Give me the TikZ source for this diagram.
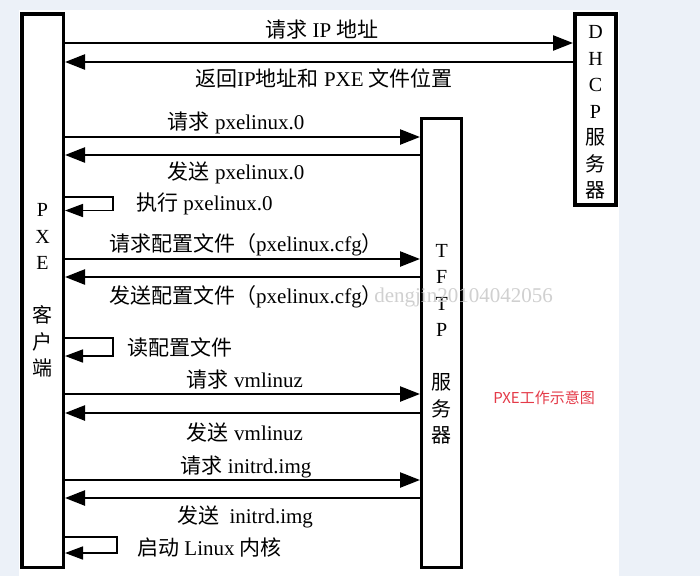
\documentclass[tikz,border=0pt]{standalone}
\usepackage{fontspec}
\setmainfont{Liberation Serif}
\newfontfamily\cjk{Noto Sans CJK SC}
\newcommand\zh[1]{{\cjk #1}}
\usetikzlibrary{arrows.meta}
\definecolor{bgc}{RGB}{236,241,248}
\definecolor{redc}{RGB}{228,58,72}
\definecolor{wmc}{RGB}{208,208,208}
\tikzset{
  box/.style={draw=black, fill=none, inner sep=0pt},
  vtext/.style={inner sep=0pt, align=center, font=\fontsize{20}{26.5}\selectfont},
  msg/.style={line width=2.4pt, -{Triangle[length=20pt,width=15pt]}},
  selfloop/.style={line width=1.6pt, -{Triangle[length=18pt,width=13pt]}},
  lbl/.style={inner sep=0pt, font=\fontsize{21}{24}\selectfont},
}
\begin{document}
\begin{tikzpicture}[x=1pt,y=-1pt]
\useasboundingbox (0,0) rectangle (700,576);
\fill[bgc] (0,0) rectangle (700,576);
\fill[white] (19,10) rectangle (619,576);

% boxes
\node[box, line width=3.5pt, minimum width=41.5pt, minimum height=553.5pt] (pxe) at (42.5,290.5) {};
\node[vtext] (pxet) at (42.5,290.5) {P\\X\\E\\[26.5pt]\zh{客}\\\zh{户}\\\zh{端}};
\node[box, line width=4pt, minimum width=41pt, minimum height=191pt] (dhcp) at (595.5,109.5) {};
\node[vtext] (dhcpt) at (595.5,112.5) {D\\H\\C\\P\\\zh{服}\\\zh{务}\\\zh{器}};
\node[box, line width=3.2pt, minimum width=40.2pt, minimum height=448.8pt] (tftp) at (441.7,343) {};
\node[vtext] (tftpt) at (441.7,344) {T\\F\\T\\P\\[26.5pt]\zh{服}\\\zh{务}\\\zh{器}};

% watermark (visible part)
\node[lbl, anchor=east, text=wmc] (wm) at (553,297) {dengjin20104042056};

% DHCP messages
\draw[msg] (pxe.east |- 0,43) -- (dhcp.west |- 0,43);
\draw[msg] (dhcp.west |- 0,62) -- (pxe.east |- 0,62);
\node[lbl] (t1) at (322,30) {\zh{请求} IP \zh{地址}};
\node[lbl] (t2) at (324,78) {\zh{返回}IP\zh{地址和} PXE \zh{文件位置}};

% pxelinux.0
\draw[msg] (pxe.east |- 0,137) -- (tftp.west |- 0,137);
\draw[msg] (tftp.west |- 0,155) -- (pxe.east |- 0,155);
\node[lbl] (t3) at (236,123) {\zh{请求} pxelinux.0};
\node[lbl] (t4) at (236,173) {\zh{发送} pxelinux.0};

% execute
\coordinate (a1) at (113,197);
\coordinate (b1) at (113,210.5);
\draw[selfloop] (pxe.east |- a1) -- (a1) -- (b1) -- (pxe.east |- b1);
\node[lbl, anchor=west] (t5) at (136,204) {\zh{执行} pxelinux.0};

% config
\draw[msg] (pxe.east |- 0,259) -- (tftp.west |- 0,259);
\draw[msg] (tftp.west |- 0,277) -- (pxe.east |- 0,277);
\node[lbl] (t6) at (246,245) {\zh{请求配置文件（}pxelinux.cfg\zh{）}};
\node[lbl] (t7) at (246,297) {\zh{发送配置文件（}pxelinux.cfg\zh{）}};

% read config
\coordinate (a2) at (113,338);
\coordinate (b2) at (113,356);
\draw[selfloop] (pxe.east |- a2) -- (a2) -- (b2) -- (pxe.east |- b2);
\node[lbl, anchor=west] (t8) at (127,347) {\zh{读配置文件}};

% vmlinuz
\draw[msg] (pxe.east |- 0,394) -- (tftp.west |- 0,394);
\draw[msg] (tftp.west |- 0,413) -- (pxe.east |- 0,413);
\node[lbl] (t9) at (245,380) {\zh{请求} vmlinuz};
\node[lbl] (t10) at (245,432) {\zh{发送} vmlinuz};

% initrd
\draw[msg] (pxe.east |- 0,480) -- (tftp.west |- 0,480);
\draw[msg] (tftp.west |- 0,498) -- (pxe.east |- 0,498);
\node[lbl] (t11) at (246,467) {\zh{请求} initrd.img};
\node[lbl] (t12) at (245,517) {\zh{发送}\ \ initrd.img};

% boot
\coordinate (a3) at (117,537);
\coordinate (b3) at (117,553);
\draw[selfloop] (pxe.east |- a3) -- (a3) -- (b3) -- (pxe.east |- b3);
\node[lbl, anchor=west] (t13) at (137,547) {\zh{启动} Linux \zh{内核}};

% caption
\node[inner sep=0pt, text=redc, font=\cjk\fontsize{15}{18}\selectfont] (cap) at (544,398) {PXE工作示意图};
\end{tikzpicture}
\end{document}
